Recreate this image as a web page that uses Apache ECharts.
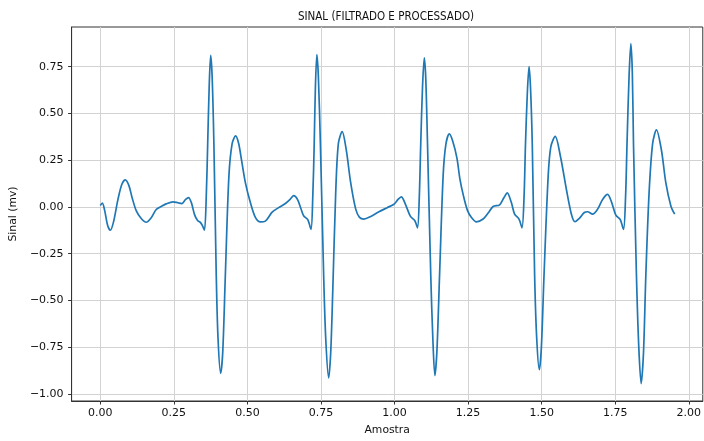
<!DOCTYPE html>
<html>
<head>
<meta charset="utf-8">
<script src="https://cdn.jsdelivr.net/npm/echarts@6/dist/echarts.min.js"></script>
<style>
  html, body { margin: 0; padding: 0; background: #fff; }
  #grafico { width: 704px; height: 441px; }
</style>
</head>
<body>
<div id="grafico"></div>
<script>
// dados
const amostra = [
  0.000, 0.007, 0.015, 0.025, 0.034, 0.045, 0.060, 0.073, 0.085, 0.097, 0.108, 0.122, 0.139, 0.156, 0.173, 0.190,
  0.207, 0.224, 0.247, 0.264, 0.277, 0.290, 0.300, 0.310, 0.320, 0.330, 0.340, 0.347, 0.354,
  0.360, 0.365, 0.370, 0.375, 0.380, 0.386, 0.394, 0.400, 0.409, 0.416, 0.425, 0.437, 0.448, 0.460, 0.470, 0.480,
  0.493, 0.510, 0.527, 0.544, 0.561, 0.584, 0.606, 0.629, 0.645, 0.657, 0.670, 0.682, 0.691, 0.705, 0.716,
  0.722, 0.727, 0.731, 0.736, 0.741, 0.748, 0.759, 0.766, 0.776, 0.783, 0.790, 0.800, 0.809, 0.822, 0.836, 0.851,
  0.868, 0.881, 0.896, 0.919, 0.947, 0.975, 0.998, 1.012, 1.023, 1.037, 1.054, 1.069, 1.078,
  1.084, 1.089, 1.095, 1.101, 1.106, 1.112, 1.123, 1.130, 1.137, 1.144, 1.153, 1.165, 1.174, 1.186, 1.198, 1.212,
  1.222, 1.234, 1.248, 1.262, 1.278, 1.301, 1.318, 1.335, 1.357, 1.372, 1.383, 1.397, 1.408, 1.423, 1.433,
  1.440, 1.445, 1.451, 1.457, 1.462, 1.468, 1.476, 1.483, 1.492, 1.499, 1.508, 1.522, 1.531, 1.546, 1.564, 1.584,
  1.601, 1.613, 1.628, 1.645, 1.656, 1.673, 1.690, 1.707, 1.724, 1.738, 1.752, 1.767, 1.778,
  1.785, 1.790, 1.797, 1.803, 1.808, 1.812, 1.822, 1.830, 1.838, 1.846, 1.854, 1.865, 1.877, 1.890, 1.907, 1.922,
  1.939, 1.952
];

const sinal = [
  0.008, 0.020, -0.020, -0.100, -0.125, -0.080, 0.040, 0.120, 0.145, 0.115, 0.050, -0.020, -0.062, -0.082, -0.058, -0.014,
  0.002, 0.016, 0.027, 0.022, 0.018, 0.040, 0.050, 0.020, -0.040, -0.072, -0.083, -0.100, -0.125,
  0.050, 0.340, 0.640, 0.810, 0.700, 0.340, -0.360, -0.700, -0.890, -0.780, -0.363, 0.163, 0.338, 0.380, 0.340, 0.250,
  0.130, 0.023, -0.056, -0.080, -0.076, -0.028, -0.004, 0.018, 0.040, 0.060, 0.040, -0.010, -0.047, -0.068, -0.120,
  0.050, 0.340, 0.640, 0.815, 0.700, 0.338, -0.363, -0.700, -0.915, -0.780, -0.450, 0.075, 0.338, 0.403, 0.303, 0.128,
  -0.012, -0.056, -0.065, -0.051, -0.026, -0.004, 0.014, 0.040, 0.054, 0.014, -0.051, -0.074, -0.112,
  0.050, 0.338, 0.640, 0.797, 0.690, 0.338, -0.363, -0.700, -0.902, -0.770, -0.363, 0.163, 0.330, 0.390, 0.350, 0.261,
  0.150, 0.060, -0.020, -0.058, -0.080, -0.065, -0.033, 0.002, 0.011, 0.050, 0.075, 0.023, -0.039, -0.065, -0.112,
  0.050, 0.338, 0.600, 0.750, 0.640, 0.338, -0.363, -0.700, -0.871, -0.750, -0.363, 0.163, 0.321, 0.377, 0.268, 0.093,
  -0.039, -0.079, -0.061, -0.030, -0.026, -0.039, -0.012, 0.040, 0.067, 0.023, -0.044, -0.068, -0.121,
  0.050, 0.338, 0.700, 0.873, 0.720, 0.338, -0.363, -0.750, -0.945, -0.780, -0.363, 0.075, 0.338, 0.412, 0.303, 0.128,
  0.005, -0.039
];

const ticksX = [0, 0.25, 0.5, 0.75, 1.0, 1.25, 1.5, 1.75, 2.0];
const ticksY = [-1.0, -0.75, -0.5, -0.25, 0, 0.25, 0.5, 0.75];

const fonte = "'DejaVu Sans', sans-serif";

function rotulo(v) {
  return v.toFixed(2).replace('-', '\u2212');
}

let dados = amostra.map((x, i) => [x, sinal[i]]);

let grafico = echarts.init(document.getElementById("grafico"));

let option = {
  animation: false,
  backgroundColor: '#fff',
  grid: {
    left: 69, right: 0, top: 27, bottom: 34,
    show: true,
    borderColor: '#333',
    borderWidth: 1
  },
  graphic: [
    {
      type: 'text',
      x: 386, y: 17,
      scaleX: 0.9,
      style: {
        text: 'SINAL (FILTRADO E PROCESSADO)',
        font: "11.5px " + fonte,
        fill: '#111',
        align: 'center',
        verticalAlign: 'middle'
      }
    }
  ],
  xAxis: {
    type: 'value',
    min: -0.0975,
    max: 2.0475,
    name: 'Amostra',
    nameLocation: 'middle',
    nameGap: 24,
    nameTextStyle: { fontFamily: fonte, fontSize: 10.8, color: '#111' },
    axisLine: { show: true, onZero: false, lineStyle: { color: '#333', width: 1 } },
    axisTick: { show: true, length: 3.5, customValues: ticksX, lineStyle: { color: '#333' } },
    axisLabel: {
      customValues: ticksX,
      formatter: rotulo,
      fontFamily: fonte, fontSize: 11, color: '#111', margin: 7
    },
    splitLine: { show: true, lineStyle: { color: '#d2d2d2', width: 1 } }
  },
  yAxis: {
    type: 'value',
    min: -1.038,
    max: 0.962,
    name: 'Sinal (mv)',
    nameLocation: 'middle',
    nameGap: 51,
    nameTextStyle: { fontFamily: fonte, fontSize: 10.8, color: '#111' },
    axisLine: { show: true, onZero: false, lineStyle: { color: '#333', width: 1 } },
    axisTick: { show: true, length: 3.5, customValues: ticksY, lineStyle: { color: '#333' } },
    axisLabel: {
      customValues: ticksY,
      formatter: rotulo,
      fontFamily: fonte, fontSize: 11, color: '#111', margin: 8
    },
    splitLine: { show: true, lineStyle: { color: '#d2d2d2', width: 1 } }
  },
  series: [
    {
      name: 'sinal',
      type: 'line',
      data: dados,
      showSymbol: false,
      smooth: 0.3,
      lineStyle: { color: '#1f77b4', width: 1.7 },
      clip: true
    }
  ]
};

grafico.setOption(option);
</script>
</body>
</html>
